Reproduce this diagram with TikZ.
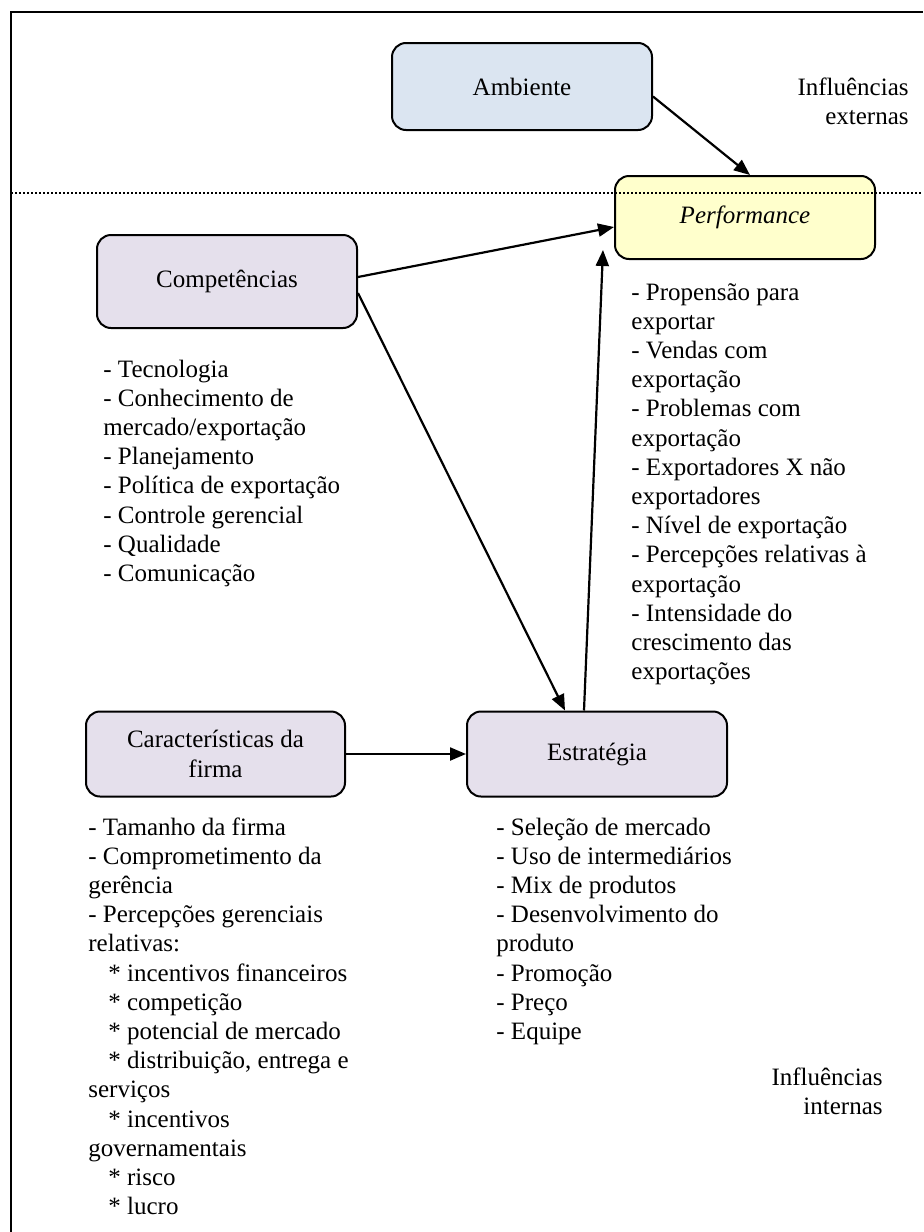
\documentclass[tikz,border=0pt]{standalone}
\usepackage{fontspec}
\setmainfont{Liberation Serif}
\usepackage{tikz}
\usetikzlibrary{arrows.meta,positioning,calc}
\definecolor{lilac}{HTML}{E5E0EC}
\definecolor{skyfill}{HTML}{DBE5F1}
\definecolor{lemon}{HTML}{FFFFCC}
\tikzset{%
  blockbox/.style = {shape=rectangle, rounded corners=7pt,%
                     draw, line width=1pt, align=center,%
                     minimum width=130pt, minimum height=42.5pt, fill=lilac},%
  envbox/.style   = {blockbox, fill=skyfill},%
  perfbox/.style  = {blockbox, fill=lemon, font=\fontsize{12.5}{14.6}\selectfont\itshape},%
  itemlist/.style = {align=left, anchor=base west, inner sep=0pt},%
  sidenote/.style = {align=right, anchor=base east, inner sep=0pt},%
  link/.style     = {-{Triangle[length=8pt,width=6.5pt]}, line width=1.1pt}%
}

\begin{document}
\begin{tikzpicture}[x=0.5pt, y=-0.5pt, every node/.style = {font=\fontsize{12.5}{14.6}\selectfont}]
  \useasboundingbox (0,0) rectangle (923,1232);
  \draw[line width=1pt] (11,1232) -- (11,12) -- (923,12);
  % boxes
  \node[envbox, minimum height=43.5pt] (amb) at (522,86.5) {Ambiente};
  \node[perfbox, minimum height=41.5pt] (perf) at (745,217.5) {Performance};
  \node[blockbox, minimum height=46.5pt] (comp) at (227,281.5) {Competências};
  \node[blockbox, minimum width=129.5pt] (firm) at (215.5,754) {Características da\\firma};
  \node[blockbox] (estr) at (597,754) {Estratégia};
  \coordinate (perfin) at (603,250);
  % lists (placed by the baseline of their last line)
  \node[itemlist] (complist) at (103,581.4) {- Tecnologia\\- Conhecimento de\\mercado/exportação\\- Planejamento\\- Política de exportação\\- Controle gerencial\\- Qualidade\\- Comunicação};
  \node[itemlist] (perflist) at (631,679.6) {- Propensão para\\exportar\\- Vendas com\\exportação\\- Problemas com\\exportação\\- Exportadores X não\\exportadores\\- Nível de exportação\\- Percepções relativas à\\exportação\\- Intensidade do\\crescimento das\\exportações};
  \node[itemlist] (firmlist) at (88,1214.6) {- Tamanho da firma\\- Comprometimento da\\gerência\\- Percepções gerenciais\\relativas:\\
    \hspace*{10pt}* incentivos financeiros\\\hspace*{10pt}* competição\\\hspace*{10pt}* potencial de mercado\\
    \hspace*{10pt}* distribuição, entrega e\\serviços\\\hspace*{10pt}* incentivos\\governamentais\\
    \hspace*{10pt}* risco\\\hspace*{10pt}* lucro};
  \node[itemlist] (estrlist) at (496,1039.4) {- Seleção de mercado\\- Uso de intermediários\\- Mix de produtos\\- Desenvolvimento do\\produto\\- Promoção\\- Preço\\- Equipe};
  \node[sidenote] (ext) at (909,124.2) {Influências\\externas};
  \node[sidenote] (int) at (883,1114.2) {Influências\\internas};
  % boundary
  \draw[line width=0.8pt, dash pattern=on 1pt off 1pt] (11,193) -- (923,193);
  % links
  \draw[link] ([yshift=-5pt]amb.east) -- ([xshift=2.5pt]perf.north);
  \draw[link] ([yshift=2.25pt]comp.east) -- ([yshift=-4.75pt]perf.west);
  \draw[link] ([yshift=-5.75pt]comp.east) -- ([xshift=-16pt]estr.north);
  \draw[link] ([xshift=-6.5pt]estr.north) -- (perfin);
  \draw[link] (firm.east) -- (estr.west);
\end{tikzpicture}
\end{document}
